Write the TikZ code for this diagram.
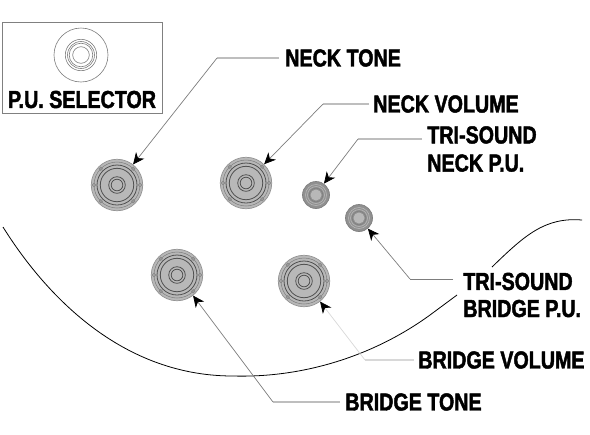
\documentclass[tikz,border=0pt]{standalone}
\usepackage{fontspec}
\setmainfont[FakeStretch=0.8, BoldFeatures={FakeBold=1.8}]{Liberation Sans}
\usepackage{tikz}
\usetikzlibrary{arrows.meta, positioning}
\definecolor{knobfill}{RGB}{184,184,184}
\definecolor{knobline}{RGB}{80,80,80}
\definecolor{leadgray}{RGB}{125,125,125}
\definecolor{railgray}{RGB}{190,190,190}
\tikzset{
  knobbig/.style={circle, draw=knobfill!80!black, fill=knobfill, minimum size=1.03cm, inner sep=0pt},
  knobsmall/.style={circle, draw=gray, fill=knobfill!78!black, minimum size=0.54cm, inner sep=0pt},
  ring/.style={draw=knobline, line width=0.45pt},
  thinring/.style={draw=gray, line width=0.35pt},
  lab/.style={anchor=west, align=left, font=\fontsize{14}{15.4}\selectfont\bfseries, inner sep=0pt},
  rail/.style={draw=railgray, line width=0.9pt},
  arr/.style={-{Stealth[black, length=2.3mm, width=2.1mm, inset=0.7mm]}, leadgray, line width=0.4pt},
  arrpale/.style={arr, draw=railgray!60},
}
% rings of a knob, radii in reference pixels
\newcommand{\bigrings}[1]{
  \draw[draw=gray, line width=0.3pt] (#1) circle (23);
  \foreach \a in {0,45,135,180,225,315} {\draw[draw=gray, line width=0.3pt] (#1) ++(\a:23) circle (1.8);}
  \foreach \r in {20,16.7,8.3,5.8} {\draw[ring] (#1) circle (\r);}
}
\newcommand{\smallrings}[1]{
  \foreach \r in {10.5,8.5} {\draw[thinring, draw=knobfill] (#1) circle (\r);}
  \draw[thinring] (#1) circle (6.8);
  \fill[knobfill] (#1) circle (5.5);
}
\begin{document}
\begin{tikzpicture}[x=0.02cm, y=-0.02cm]
\useasboundingbox (0,0) rectangle (590,434);

% selector box
\node[draw=gray, line width=0.5pt, minimum width=3.2cm, minimum height=1.82cm, inner sep=0pt] (selbox) at (82,67.5) {};
\node[thinring, circle, minimum size=1.08cm, inner sep=0pt] (selknob) at (81,55) {};
\foreach \r in {15.7,13.5,11.8,8.3} {\draw[thinring] (selknob) circle (\r);}
\node[lab, anchor=center] (sellab) at (82,99.5) {P.U. SELECTOR};

% body outline
\draw[black, line width=0.45pt] (3,227) .. controls (40.5,287) and (116,376) .. (233,376)
  .. controls (305,378) and (375,355) .. (430,315) -- (457,295);
\draw[black, line width=0.45pt] (492,267) .. controls (525,235) and (545,217) .. (582,220);

% knobs
\node[knobbig] (necktone) at (117,185) {};
\node[knobbig] (neckvol) at (246,183) {};
\node[knobsmall] (trineck) at (316,195) {};
\node[knobsmall] (tribridge) at (359,218) {};
\node[knobbig] (bridgetone) at (177,275) {};
\node[knobbig] (bridgevol) at (304,281) {};
\bigrings{necktone}
\bigrings{neckvol}
\bigrings{bridgetone}
\bigrings{bridgevol}
\smallrings{trineck}
\smallrings{tribridge}

% labels
\node[lab] (lneck) at (285,58) {NECK TONE};
\node[lab] (lvol) at (373,104) {NECK VOLUME};
\node[lab, font=\fontsize{14}{16}\selectfont\bfseries] (ltrin) at (427,149) {TRI-SOUND\\NECK P.U.};
\node[lab] (ltrib) at (463,295) {TRI-SOUND\\BRIDGE P.U.};
\node[lab] (lbvol) at (418,360) {BRIDGE VOLUME};
\node[lab] (lbtone) at (345,402) {BRIDGE TONE};

% elbows
\coordinate (a1) at (217,58);
\coordinate (a2) at (323,104);
\coordinate (a3) at (358,139);
\coordinate (a4) at (410,279);
\coordinate (a5) at (365,360);
\coordinate (a6) at (273,402);
\coordinate (e3) at (422,139);
\coordinate (e4) at (453,279);

\draw[rail] (lneck.west) ++(-6,0) -- (a1);
\draw[rail] (lvol.west) ++(-4,0) -- (a2);
\draw[rail] (e3) -- (a3);
\draw[rail, draw=leadgray, line width=0.5pt] (e4) -- (a4);
\draw[rail, draw=railgray!60] (lbvol.west) ++(-4,0) -- (a5);
\draw[rail] (lbtone.west) ++(-5,0) -- (a6);

\draw[arr] (a1) -- (necktone.52);
\draw[arr] (a2) -- (neckvol.46);
\draw[arr] (a3) -- (trineck.55);
\draw[arr] (a4) -- (tribridge.-50);
\draw[arrpale] (a5) -- (bridgevol.-52);
\draw[arr] (a6) -- (bridgetone.-52);

\end{tikzpicture}
\end{document}
